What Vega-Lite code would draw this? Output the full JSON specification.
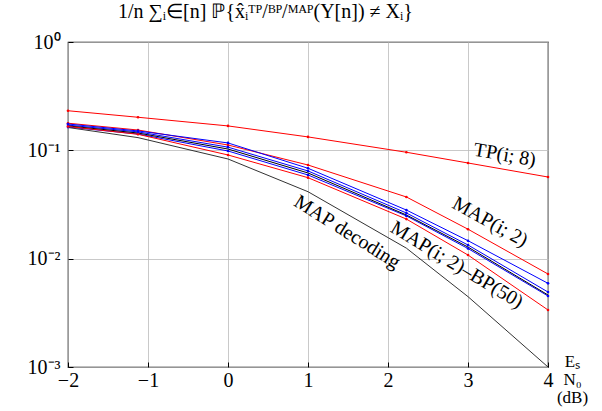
{
  "$schema": "https://vega.github.io/schema/vega-lite/v6.json",
  "width": 480,
  "height": 325,
  "autosize": {"type": "none"},
  "padding": {"left": 68, "top": 42, "right": 54, "bottom": 44},
  "background": "white",
  "config": {
    "view": {"stroke": "black", "strokeWidth": 1.2},
    "font": "Liberation Serif",
    "axis": {"labelFont": "Liberation Serif", "titleFont": "Liberation Serif", "labelColor": "black", "titleColor": "black", "titleFontWeight": "normal", "gridColor": "#bbbbbb", "gridWidth": 0.8, "domain": false, "tickColor": "black", "tickSize": -5, "labelFontSize": 20}
  },
  "title": {"text": "1/n ∑ᵢ∈[n] ℙ{x̂ᵢᵀᴾ/ᴮᴾ/ᴹᴬᴾ(Y[n]) ≠ Xᵢ}", "anchor": "start", "frame": "group", "dx": 50, "offset": 10, "font": "Liberation Serif", "fontSize": 20, "fontWeight": "normal", "color": "black"},
  "datasets": {
    "curves": [
      {"s": "TP(i;8)", "x": -2, "y": 0.232}, {"s": "TP(i;8)", "x": -1.125, "y": 0.202}, {"s": "TP(i;8)", "x": 0, "y": 0.168}, {"s": "TP(i;8)", "x": 1, "y": 0.133}, {"s": "TP(i;8)", "x": 2.23, "y": 0.096}, {"s": "TP(i;8)", "x": 3, "y": 0.0764}, {"s": "TP(i;8)", "x": 4, "y": 0.0567},
      {"s": "MAP(i;2)", "x": -2, "y": 0.178}, {"s": "MAP(i;2)", "x": -1.125, "y": 0.154}, {"s": "MAP(i;2)", "x": 0, "y": 0.112}, {"s": "MAP(i;2)", "x": 1, "y": 0.0732}, {"s": "MAP(i;2)", "x": 2.23, "y": 0.0371}, {"s": "MAP(i;2)", "x": 3, "y": 0.0187}, {"s": "MAP(i;2)", "x": 4, "y": 0.00722},
      {"s": "BP a", "x": -2, "y": 0.175}, {"s": "BP a", "x": -1.125, "y": 0.151}, {"s": "BP a", "x": 0, "y": 0.117}, {"s": "BP a", "x": 1, "y": 0.0683}, {"s": "BP a", "x": 2.23, "y": 0.0281}, {"s": "BP a", "x": 3, "y": 0.01465}, {"s": "BP a", "x": 4, "y": 0.00592},
      {"s": "BP b", "x": -2, "y": 0.171}, {"s": "BP b", "x": -1.125, "y": 0.148}, {"s": "BP b", "x": 0, "y": 0.107}, {"s": "BP b", "x": 1, "y": 0.0645}, {"s": "BP b", "x": 2.23, "y": 0.0264}, {"s": "BP b", "x": 3, "y": 0.01337}, {"s": "BP b", "x": 4, "y": 0.00492},
      {"s": "BP c", "x": -2, "y": 0.164}, {"s": "BP c", "x": -1.125, "y": 0.1415}, {"s": "BP c", "x": 0, "y": 0.0986}, {"s": "BP c", "x": 1, "y": 0.0592}, {"s": "BP c", "x": 2.23, "y": 0.0248}, {"s": "BP c", "x": 3, "y": 0.0124}, {"s": "BP c", "x": 4, "y": 0.00452},
      {"s": "MAP(i;2)-BP(50)", "x": -2, "y": 0.168}, {"s": "MAP(i;2)-BP(50)", "x": -1.125, "y": 0.1445}, {"s": "MAP(i;2)-BP(50)", "x": 0, "y": 0.1028}, {"s": "MAP(i;2)-BP(50)", "x": 1, "y": 0.0618}, {"s": "MAP(i;2)-BP(50)", "x": 2.23, "y": 0.0253}, {"s": "MAP(i;2)-BP(50)", "x": 3, "y": 0.0128}, {"s": "MAP(i;2)-BP(50)", "x": 4, "y": 0.00462},
      {"s": "red lower", "x": -2, "y": 0.166}, {"s": "red lower", "x": -1.125, "y": 0.1406}, {"s": "red lower", "x": 0, "y": 0.0906}, {"s": "red lower", "x": 1, "y": 0.0559}, {"s": "red lower", "x": 2.23, "y": 0.0232}, {"s": "red lower", "x": 3, "y": 0.0108}, {"s": "red lower", "x": 4, "y": 0.00336},
      {"s": "MAP decoding", "x": -2, "y": 0.1625}, {"s": "MAP decoding", "x": -1.125, "y": 0.131}, {"s": "MAP decoding", "x": 0, "y": 0.0832}, {"s": "MAP decoding", "x": 1, "y": 0.0415}, {"s": "MAP decoding", "x": 2.23, "y": 0.0125}, {"s": "MAP decoding", "x": 3, "y": 0.00446}, {"s": "MAP decoding", "x": 4, "y": 0.001}
    ]
  },
  "data": {"name": "curves"},
  "encoding": {
    "x": {"field": "x", "type": "quantitative", "scale": {"domain": [-2, 4], "nice": false, "zero": false},
      "axis": {"title": ["Eₛ", "N₀", "(dB)"], "values": [-2, -1, 0, 1, 2, 3, 4], "labelExpr": "datum.value < 0 ? '−' + abs(datum.value) : datum.label", "labelPadding": 8, "titleX": 504, "titleY": -14, "titleAlign": "center", "titleBaseline": "top", "titleFontSize": 17, "titleLineHeight": 18, "labelFlush": false}},
    "y": {"field": "y", "type": "quantitative", "scale": {"type": "log", "domain": [0.001, 1], "nice": false},
      "axis": {"title": null, "values": [0.001, 0.01, 0.1, 1], "labelExpr": "datum.value == 1 ? '10⁰' : datum.value == 0.1 ? '10⁻¹' : datum.value == 0.01 ? '10⁻²' : '10⁻³'", "labelPadding": 13, "labelFlush": false}}
  },
  "layer": [
    {
      "mark": {"type": "line", "clip": true},
      "encoding": {
        "color": {"field": "s", "type": "nominal", "legend": null, "scale": {"domain": ["TP(i;8)", "MAP(i;2)", "BP a", "BP b", "BP c", "MAP(i;2)-BP(50)", "red lower", "MAP decoding"], "range": ["#ff0000", "#ff0000", "#0000ff", "#0000ff", "#0000ff", "#000000", "#ff0000", "#333333"]}},
        "strokeWidth": {"field": "s", "type": "nominal", "legend": null, "scale": {"domain": ["TP(i;8)", "MAP(i;2)", "BP a", "BP b", "BP c", "MAP(i;2)-BP(50)", "red lower", "MAP decoding"], "range": [1, 1, 1, 1.3, 1.3, 2, 1, 0.9]}},
        "order": {"field": "x", "type": "quantitative"}
      }
    },
    {
      "transform": [{"filter": "datum.s != 'MAP decoding' && datum.s != 'MAP(i;2)-BP(50)'"}],
      "mark": {"type": "point", "filled": true, "size": 7, "opacity": 1},
      "encoding": {
        "color": {"field": "s", "type": "nominal", "legend": null, "scale": {"domain": ["TP(i;8)", "MAP(i;2)", "BP a", "BP b", "BP c", "MAP(i;2)-BP(50)", "red lower", "MAP decoding"], "range": ["#ff0000", "#ff0000", "#0000ff", "#0000ff", "#0000ff", "#000000", "#ff0000", "#333333"]}}
      }
    },
    {
      "data": {"values": [{"x": 3.46, "y": 0.0905, "t": "TP(i; 8)"}]},
      "mark": {"type": "text", "angle": 10, "fontSize": 20, "font": "Liberation Serif", "color": "black"},
      "encoding": {"text": {"field": "t"}}
    },
    {
      "data": {"values": [{"x": 3.275, "y": 0.0218, "t": "MAP(i; 2)"}]},
      "mark": {"type": "text", "angle": 29, "fontSize": 20, "font": "Liberation Serif", "color": "black"},
      "encoding": {"text": {"field": "t"}}
    },
    {
      "data": {"values": [{"x": 2.86, "y": 0.00875, "t": "MAP(i; 2)–BP(50)"}]},
      "mark": {"type": "text", "angle": 31, "fontSize": 20, "font": "Liberation Serif", "color": "black"},
      "encoding": {"text": {"field": "t"}}
    },
    {
      "data": {"values": [{"x": 1.49, "y": 0.0176, "t": "MAP decoding"}]},
      "mark": {"type": "text", "angle": 32, "fontSize": 20, "font": "Liberation Serif", "color": "black"},
      "encoding": {"text": {"field": "t"}}
    }
  ]
}
